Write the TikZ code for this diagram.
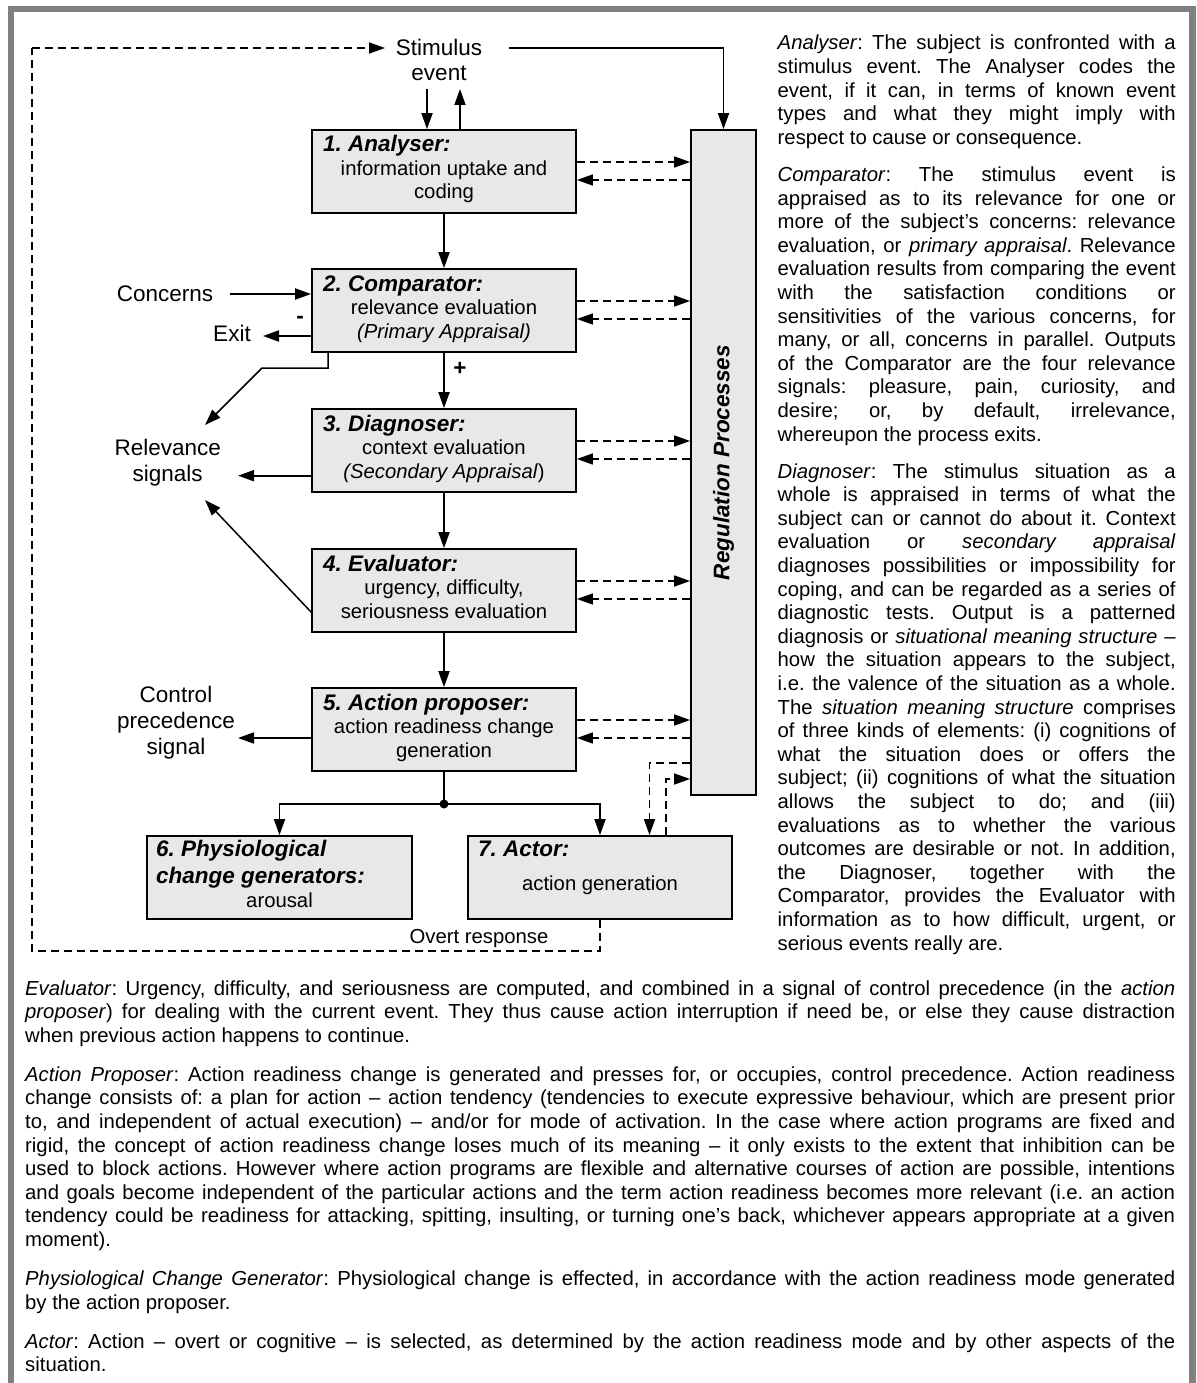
\documentclass[tikz,border=0pt]{standalone}
\usepackage{fontspec}
\setmainfont{Liberation Sans}
\usetikzlibrary{arrows.meta,calc}
\definecolor{framegray}{HTML}{808080}
\definecolor{boxfill}{HTML}{E8E8E8}
\newcommand\bodyfont{\fontsize{20.3}{23.6}\selectfont}
\newcommand\labelfont{\fontsize{22.5}{25.9}\selectfont\frenchspacing}
\newcommand\parsetup[1]{\setlength{\parskip}{#1}\setlength{\parindent}{0pt}\frenchspacing
  \hyphenpenalty=10000 \exhyphenpenalty=10000 \tolerance=10000 \pretolerance=-1 \hbadness=10000}

\begin{document}
\begin{tikzpicture}[x=1pt,y=-1pt,
  >={Triangle[length=16pt,width=11pt]},
  proc/.style={draw=black, fill=boxfill, line width=1.8pt, minimum width=264pt,
    minimum height=83pt, inner sep=0pt},
  flow/.style={line width=1.8pt, ->},
  fb/.style={line width=1.6pt, dash pattern=on 8pt off 5pt, ->},
  loop/.style={line width=1.6pt, dash pattern=on 8pt off 5pt},
  slim/.style={line width=1.5pt, ->},
  title/.style={font=\labelfont\bfseries\itshape, anchor=base west, inner sep=0pt},
  body/.style={font=\bodyfont, anchor=base, inner sep=0pt},
  lbl/.style={font=\labelfont, align=center, inner sep=0pt},
  para/.style={anchor=base west, align=justify, inner sep=0pt, font=\bodyfont},
]
\useasboundingbox (0,0) rectangle (1196,1383);
\fill[white] (0,0) rectangle (1196,1383);

% frame
\fill[framegray] (8,6) rectangle (1196,12);
\fill[framegray] (8,6) rectangle (14,1383);
\fill[framegray] (1189,6) rectangle (1196,1383);

% process boxes
\node[proc] (a1) at (444,171.5) {};
\node[proc] (a2) at (444,310.5) {};
\node[proc] (a3) at (444,450.5) {};
\node[proc] (a4) at (444,590.5) {};
\node[proc] (a5) at (444,729.5) {};
\node[proc, minimum width=265pt] (a6) at (279.5,877.5) {};
\node[proc] (a7) at (600,877.5) {};
\node[proc, minimum width=65pt, minimum height=665pt] (reg) at (723.5,462.5) {};
\node[font=\labelfont\bfseries\itshape, rotate=90, inner sep=0pt] (regt) at (reg.center) {Regulation Processes};

% box texts
\node[title] (a1h) at (323,152) {1. Analyser:};
\node[body] (a1b) at (444,175.5) {information uptake and};
\node[body] (a1c) at (444,199) {coding};
\node[title] (a2h) at (323,291) {2. Comparator:};
\node[body] (a2b) at (444,314.5) {relevance evaluation};
\node[body] (a2c) at (444,338) {\itshape (Primary Appraisal)};
\node[title] (a3h) at (323,431) {3. Diagnoser:};
\node[body] (a3b) at (444,454.5) {context evaluation};
\node[body] (a3c) at (444,478) {\textit{(Secondary Appraisal})};
\node[title] (a4h) at (323,571) {4. Evaluator:};
\node[body] (a4b) at (444,594.5) {urgency, difficulty,};
\node[body] (a4c) at (444,618) {seriousness evaluation};
\node[title] (a5h) at (323,710) {5. Action proposer:};
\node[body] (a5b) at (444,733.5) {action readiness change};
\node[body] (a5c) at (444,757) {generation};
\node[title] (a6h) at (156,856) {6. Physiological};
\node[title] (a6i) at (156,883) {change generators:};
\node[body] (a6b) at (279.5,907) {arousal};
\node[title] (a7h) at (478,856) {7. Actor:};
\node[body] (a7b) at (600,890) {action generation};

% outer labels
\node[lbl] (stim) at (439,60) {Stimulus\\event};
\node[lbl] (conc) at (165,294) {Concerns};
\node[lbl] (exit) at (232,333) {Exit};
\node[lbl, font=\labelfont\bfseries] (minus) at (300,320) {-};
\node[lbl, font=\labelfont\bfseries] (plus) at (460,369) {+};
\node[lbl] (rel) at (167.7,463) {Relevance\\signals};
\node[lbl] (cps) at (176,722.5) {Control\\precedence\\signal};
\node[body, anchor=center] (overt) at (479,939) {Overt response};

% connector end points
\coordinate (sIn) at (427,89);
\coordinate (sOut) at (460,89);
\coordinate (sR) at (509,48);
\coordinate (sL) at (385,48);
\coordinate (loopTL) at (32,48);
\coordinate (loopBL) at (32,951);
\coordinate (concA) at (230,294);
\coordinate (exitA) at (263,336);
\coordinate (c1) at (328,368);
\coordinate (c2) at (262,368);
\coordinate (relTR) at (205,425);
\coordinate (relR) at (238,475.7);
\coordinate (relBR) at (205,500);
\coordinate (e1) at (312,613);
\coordinate (cpsR) at (238,738);
\coordinate (dot) at (444,804);
\coordinate (r1) at (649.5,763);
\coordinate (r2) at (666,779);

% stimulus connections
\draw[flow] (sIn) -- (sIn |- a1.north);
\draw[flow] (sOut |- a1.north) -- (sOut);
\draw[flow] (sR) -| (reg.north);
\draw[loop] (a7.south) -- (a7.south |- loopBL) -- (loopBL) -- (loopTL);
\draw[fb] (loopTL) -- (sL);

% main chain
\draw[flow] (a1) -- (a2);
\draw[flow] (a2) -- (a3);
\draw[flow] (a3) -- (a4);
\draw[flow] (a4) -- (a5);
\draw[line width=1.8pt] (a5.south) -- (dot);
\fill (dot) circle (4.5);
\draw[flow] (dot) -| (a6.north);
\draw[flow] (dot) -| (a7.north);

% regulation feedback
\foreach \b in {a1,a2,a3,a4,a5}{
  \draw[fb] ($(\b.east)+(0,-9.5)$) -- ($(reg.west |- \b.east)+(0,-9.5)$);
  \draw[fb] ($(reg.west |- \b.east)+(0,8.5)$) -- ($(\b.east)+(0,8.5)$);
}
\draw[fb] (r1 -| reg.west) -- (r1) -- (r1 |- a7.north);
\draw[fb] (r2 |- a7.north) -- (r2) -- (r2 -| reg.west);

% side signals
\draw[flow] (concA) -- (concA -| a2.west);
\draw[flow] (exitA -| a2.west) -- (exitA);
\draw[slim] (c1 |- a2.south) -- (c1) -- (c2) -- (relTR);
\draw[flow] (relR -| a3.west) -- (relR);
\draw[slim] (e1) -- (relBR);
\draw[flow] (cpsR -| a5.west) -- (cpsR);

% explanatory text, right column
\node[para, text width=398pt] (rcol) at (777.5,50) {\parsetup{13.5pt}
\textit{Analyser}: The subject is confronted with a\linebreak
stimulus event. The Analyser codes the\linebreak
event, if it can, in terms of known event\linebreak
types and what they might imply with\linebreak
respect to cause or consequence.\par
\textit{Comparator}: The stimulus event is\linebreak
appraised as to its relevance for one or\linebreak
more of the subject’s concerns: relevance\linebreak
evaluation, or \textit{primary appraisal}. Relevance\linebreak
evaluation results from comparing the event\linebreak
with the satisfaction conditions or\linebreak
sensitivities of the various concerns, for\linebreak
many, or all, concerns in parallel. Outputs\linebreak
of the Comparator are the four relevance\linebreak
signals: pleasure, pain, curiosity, and\linebreak
desire; or, by default, irrelevance,\linebreak
whereupon the process exits.\par
\textit{Diagnoser}: The stimulus situation as a\linebreak
whole is appraised in terms of what the\linebreak
subject can or cannot do about it. Context\linebreak
evaluation or \textit{secondary appraisal}\linebreak
diagnoses possibilities or impossibility for\linebreak
coping, and can be regarded as a series of\linebreak
diagnostic tests. Output is a patterned\linebreak
diagnosis or \textit{situational meaning structure}~–\linebreak
how the situation appears to the subject,\linebreak
i.e. the valence of the situation as a whole.\linebreak
The \textit{situation meaning structure} comprises\linebreak
of three kinds of elements: (i) cognitions of\linebreak
what the situation does or offers the\linebreak
subject; (ii) cognitions of what the situation\linebreak
allows the subject to do; and (iii)\linebreak
evaluations as to whether the various\linebreak
outcomes are desirable or not. In addition,\linebreak
the Diagnoser, together with the\linebreak
Comparator, provides the Evaluator with\linebreak
information as to how difficult, urgent, or\linebreak
serious events really are.\par};

% explanatory text, full width
\node[para, text width=1150pt] (bcol) at (25,995) {\parsetup{15.5pt}
\textit{Evaluator}: Urgency, difficulty, and seriousness are computed, and combined in a signal of control precedence (in the \textit{action}\linebreak
\textit{proposer}) for dealing with the current event. They thus cause action interruption if need be, or else they cause distraction\linebreak
when previous action happens to continue.\par
\textit{Action Proposer}: Action readiness change is generated and presses for, or occupies, control precedence. Action readiness\linebreak
change consists of: a plan for action – action tendency (tendencies to execute expressive behaviour, which are present prior\linebreak
to, and independent of actual execution) – and/or for mode of activation. In the case where action programs are fixed and\linebreak
rigid, the concept of action readiness change loses much of its meaning – it only exists to the extent that inhibition can be\linebreak
used to block actions. However where action programs are flexible and alternative courses of action are possible, intentions\linebreak
and goals become independent of the particular actions and the term action readiness becomes more relevant (i.e. an action\linebreak
tendency could be readiness for attacking, spitting, insulting, or turning one’s back, whichever appears appropriate at a given\linebreak
moment).\par
\textit{Physiological Change Generator}: Physiological change is effected, in accordance with the action readiness mode generated\linebreak
by the action proposer.\par
\textit{Actor}: Action – overt or cognitive – is selected, as determined by the action readiness mode and by other aspects of the\linebreak
situation.\par};
\end{tikzpicture}
\end{document}
